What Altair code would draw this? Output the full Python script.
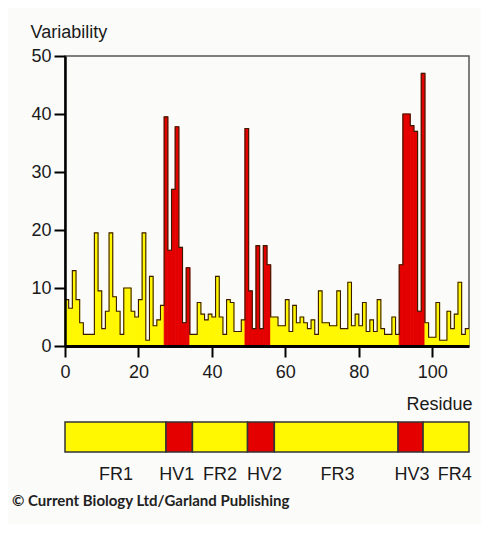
import altair as alt
import pandas as pd

# Variability per residue, region by region
fr1 = [8, 6.5, 13, 8, 4, 2, 2, 2, 19.5, 9.5, 3, 6, 19.5, 8.5, 6, 2, 10, 10, 6, 5, 8, 19.5, 1, 12, 3.5, 4.5, 7]
hv1 = [39.5, 16.5, 27, 37.8, 17, 4, 13.5]
fr2 = [2, 2, 7.5, 5.5, 4.5, 5.5, 5, 12, 5, 2, 8, 7.5, 2.5, 2.5, 4.5]
hv2 = [37.5, 9.5, 3, 17.3, 3, 17.3, 14]
fr3 = [5, 5, 3.5, 3.5, 8, 2.5, 7, 4, 5, 4, 3, 4.5, 2, 9.5, 4, 4, 3.5, 3.5, 9.5, 3, 3,
       11, 3.5, 5.5, 3.5, 7.5, 2.5, 4.5, 2.5, 8, 3, 2, 2, 5, 2]
hv3 = [14, 40, 40, 38, 37, 6, 47]
fr4 = [4, 1.5, 1.5, 7.5, 1, 1, 6, 3, 5.5, 11, 2, 3]

segment_names = ["FR1", "HV1", "FR2", "HV2", "FR3", "HV3", "FR4"]
segment_bounds = [0, 27.5, 34.7, 49.7, 57.0, 90.7, 97.5, 110]
label_at = [13.9, 30.4, 42.2, 54.3, 74.2, 94.5, 106.1]

x_ticks = list(range(0, 111, 10))
y_ticks = list(range(0, 51, 5))
copyright_text = ["\u00a9 Current Biology Ltd/Garland Publishing"]

YELLOW = "#FFF800"
RED = "#E50000"
FONT = "Liberation Sans"

# build tables
rows = []
pos = 0
for name, vals in zip(segment_names, [fr1, hv1, fr2, hv2, fr3, hv3, fr4]):
    for v in vals:
        rows.append({"start": pos, "end": pos + 1, "value": v, "kind": name[:2]})
        pos += 1
profile = pd.DataFrame(rows)
outline = pd.concat([profile[["start", "value"]],
                     pd.DataFrame([{"start": pos, "value": rows[-1]["value"]}])],
                    ignore_index=True)

strip = pd.DataFrame({
    "start": segment_bounds[:-1],
    "end": segment_bounds[1:],
    "kind": [n[:2] for n in segment_names],
})
labels = pd.DataFrame({"start": label_at, "name": segment_names})
credit = pd.DataFrame({"text": copyright_text})

xscale = alt.Scale(domain=[0, 110], nice=False, zero=False)
yscale = alt.Scale(domain=[0, 50], nice=False)
cscale = alt.Scale(domain=["FR", "HV"], range=[YELLOW, RED])

x_axis = alt.Axis(
    values=x_ticks,
    labelExpr="(datum.value % 20 == 0 && datum.value <= 100) ? datum.label : ''",
    title="Residue", titleAngle=0, titleAlign="right", titleX=407, titleY=63,
    titleBaseline="alphabetic", titleFontWeight="normal", titleFontSize=18, titleFont=FONT,
    labelFontSize=18, labelFont=FONT, labelPadding=6, labelFlush=False,
    tickSize=11, tickWidth=2, tickColor="black", domainColor="black", domainWidth=3,
    grid=False, zindex=1, labelColor="#1a1a1a", titleColor="#1a1a1a",
)
y_axis = alt.Axis(
    values=y_ticks,
    labelExpr="datum.value % 10 == 0 ? datum.label : ''",
    title="Variability", titleAngle=0, titleAlign="left", titleX=-35, titleY=-19,
    titleBaseline="alphabetic", titleFontWeight="normal", titleFontSize=18, titleFont=FONT,
    labelFontSize=18, labelFont=FONT, labelPadding=3,
    tickSize=11, tickWidth=2, tickColor="black", domainColor="black", domainWidth=2.5,
    grid=False, zindex=1, labelColor="#1a1a1a", titleColor="#1a1a1a",
)

bars = alt.Chart(profile).mark_rect(strokeWidth=0.8).encode(
    x=alt.X("start:Q", scale=xscale, axis=x_axis),
    x2="end:Q",
    y=alt.Y("value:Q", scale=yscale, axis=y_axis),
    y2=alt.datum(0),
    color=alt.Color("kind:N", scale=cscale, legend=None),
    stroke=alt.Stroke("kind:N", scale=cscale, legend=None),
)

line = alt.Chart(outline).mark_line(
    interpolate="step-after", color="#3a1a00", strokeWidth=1.1
).encode(
    x=alt.X("start:Q", scale=xscale),
    y=alt.Y("value:Q", scale=yscale),
)

strip_rects = alt.Chart(strip).mark_rect(stroke="#333333", strokeWidth=1.5).encode(
    x=alt.X("start:Q", scale=xscale),
    x2="end:Q",
    y=alt.value(366),
    y2=alt.value(396),
    color=alt.Color("kind:N", scale=cscale, legend=None),
)

strip_text = alt.Chart(labels).mark_text(
    font=FONT, fontSize=18, baseline="alphabetic", align="center", color="#1a1a1a"
).encode(
    x=alt.X("start:Q", scale=xscale),
    y=alt.value(424),
    text="name:N",
)

credit_text = alt.Chart(credit).mark_text(
    font="Lato", fontSize=15, fontWeight="bold", baseline="alphabetic", align="left",
    color="#222222"
).encode(
    x=alt.value(-53),
    y=alt.value(450),
    text="text:N",
)

chart = alt.layer(bars, line, strip_rects, strip_text, credit_text).properties(
    width=404,
    height=290,
    autosize=alt.AutoSizeParams(type="none"),
    padding={"left": 57, "top": 48, "right": 12, "bottom": 178},
    background="#FBFBF9",
).configure_view(stroke="#555555", strokeWidth=1.5)

chart.save("out.html", embed_options={"renderer": "svg", "actions": False})
